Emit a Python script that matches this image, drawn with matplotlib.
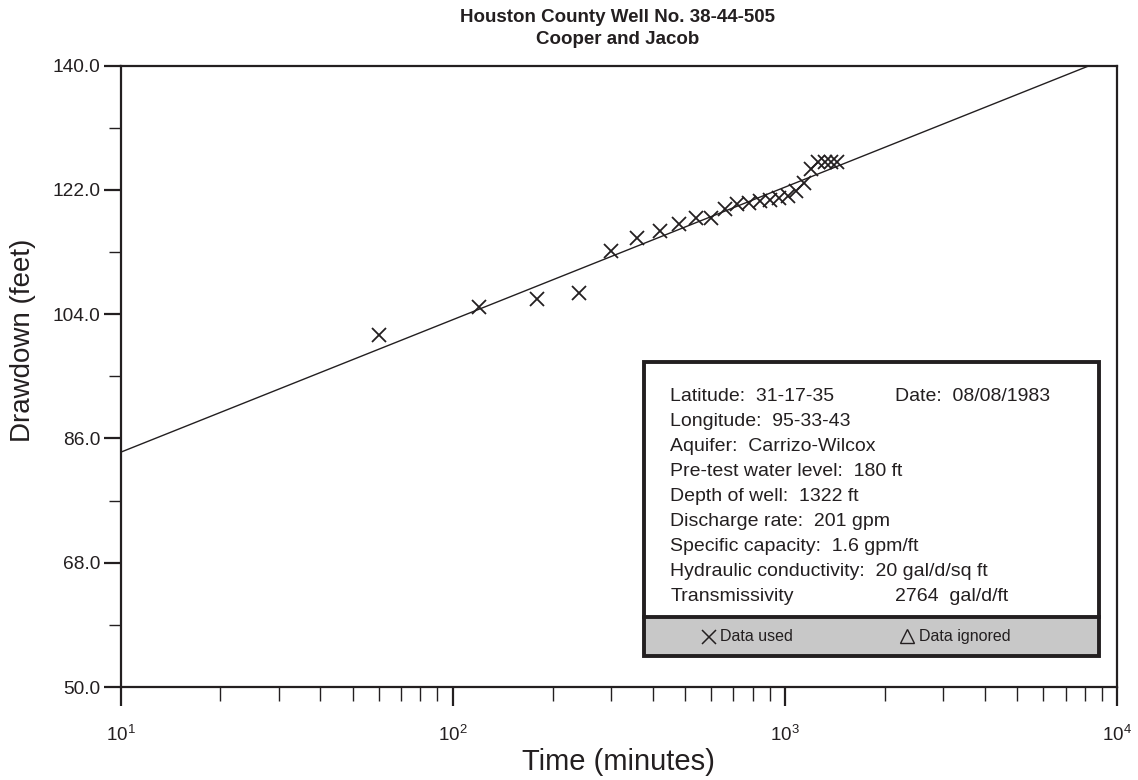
import numpy as np
import matplotlib
matplotlib.use("Agg")
import matplotlib.pyplot as plt
from matplotlib.patches import Rectangle
from matplotlib.lines import Line2D
from matplotlib.ticker import FixedLocator, FormatStrFormatter, LogLocator

plt.rcParams["font.family"] = ["Liberation Sans", "DejaVu Sans"]

# ---------------------------------------------------------------------------
# Data
# ---------------------------------------------------------------------------
time_min = [60, 120, 180, 240, 300, 360, 420, 480, 540, 600, 660, 720,
            780, 840, 900, 960, 1020, 1080, 1140, 1200, 1260, 1320, 1380, 1440]
drawdown_ft = [101.0, 105.0, 106.2, 107.1, 113.1, 115.1, 116.1, 117.0, 118.0,
               118.0, 119.2, 119.9, 120.1, 120.4, 120.6, 120.8, 121.1, 121.8,
               123.0, 125.0, 126.0, 126.0, 126.0, 126.0]

# Cooper-Jacob straight line: drawdown at t=10 min and slope per log cycle
fit_s_at_10 = 84.0
fit_slope = 19.2
fit_t = [10, 10000]

y_major = [50.0, 68.0, 86.0, 104.0, 122.0, 140.0]
y_minor = [59.0, 77.0, 95.0, 113.0, 131.0]

title_lines = ["Houston County Well No. 38-44-505", "Cooper and Jacob"]
info_rows = [
    ("Latitude:  31-17-35", "Date:  08/08/1983"),
    ("Longitude:  95-33-43", ""),
    ("Aquifer:  Carrizo-Wilcox", ""),
    ("Pre-test water level:  180 ft", ""),
    ("Depth of well:  1322 ft", ""),
    ("Discharge rate:  201 gpm", ""),
    ("Specific capacity:  1.6 gpm/ft", ""),
    ("Hydraulic conductivity:  20 gal/d/sq ft", ""),
    ("Transmissivity", "2764  gal/d/ft"),
]

# ---------------------------------------------------------------------------
# Figure
# ---------------------------------------------------------------------------
W, H = 1138, 780
fig = plt.figure(figsize=(W / 100, H / 100), dpi=100)


def fx(px):
    return px / W


def fy(py):
    return 1 - py / H


ax = fig.add_axes([fx(120.5), fy(687), fx(1117) - fx(120.5), fy(65.7) - fy(687)])
ax.set_xscale("log")
ax.set_xlim(10, 10000)
ax.set_ylim(50, 140)

ink = "#231f20"

ft = np.array(fit_t, dtype=float)
ax.plot(ft, fit_s_at_10 + fit_slope * (np.log10(ft) - 1), color=ink, lw=1.0)
ax.plot(time_min, drawdown_ft, ls="none", marker="x", ms=9.5, mew=1.3, color=ink)

for s in ax.spines.values():
    s.set_linewidth(1.6)
    s.set_color(ink)

ax.yaxis.set_major_locator(FixedLocator(y_major))
ax.yaxis.set_minor_locator(FixedLocator(y_minor))
ax.yaxis.set_major_formatter(FormatStrFormatter("%.1f"))
ax.xaxis.set_major_locator(LogLocator(base=10))
ax.xaxis.set_minor_locator(LogLocator(base=10, subs=np.arange(2, 10)))
ax.xaxis.set_minor_formatter(plt.NullFormatter())

ax.tick_params(axis="y", which="major", direction="out", length=12.5, width=1.6,
               color=ink, labelsize=13.8, labelcolor=ink, pad=2)
ax.tick_params(axis="y", which="minor", direction="out", length=8.5, width=1.0, color=ink)
ax.tick_params(axis="x", which="major", direction="out", length=13.5, width=1.6,
               color=ink, labelsize=13.5, labelcolor=ink, pad=14)
ax.tick_params(axis="x", which="minor", direction="out", length=10, width=1.0, color=ink)

# axis labels placed where they sit in the reference
fig.text(fx(618.5), fy(762), "Time (minutes)", ha="center", va="center",
         fontsize=21, color=ink)
fig.text(fx(23.5), fy(340), "Drawdown (feet)", ha="center", va="center",
         rotation=90, fontsize=20, color=ink)

fig.text(fx(618), fy(17), title_lines[0], ha="center", va="center",
         fontsize=13.5, fontweight="bold", color=ink)
fig.text(fx(618), fy(40), title_lines[1], ha="center", va="center",
         fontsize=13.5, fontweight="bold", color=ink)

# ---------------------------------------------------------------------------
# Info box
# ---------------------------------------------------------------------------
bx0, bx1, by_top, by_sep, by_bot = 644, 1099, 362, 617, 656
fig.add_artist(Rectangle((fx(bx0), fy(by_bot)), fx(bx1) - fx(bx0), fy(by_sep) - fy(by_bot),
                         transform=fig.transFigure, facecolor="#c8c8c8", edgecolor="none"))
fig.add_artist(Rectangle((fx(bx0), fy(by_bot)), fx(bx1) - fx(bx0), fy(by_top) - fy(by_bot),
                         transform=fig.transFigure, facecolor="none", edgecolor=ink, lw=2.8))
fig.add_artist(Line2D([fx(bx0), fx(bx1)], [fy(by_sep), fy(by_sep)],
                      transform=fig.transFigure, color=ink, lw=2.8))

for i, (left, right) in enumerate(info_rows):
    base = 400.7 + 25 * i
    fig.text(fx(670.5), fy(base), left, ha="left", va="baseline", fontsize=14, color=ink)
    if right:
        fig.text(fx(895), fy(base), right, ha="left", va="baseline", fontsize=14, color=ink)

fig.add_artist(Line2D([fx(708.5)], [fy(636.5)], transform=fig.transFigure, marker="x",
                      ms=9.5, mew=1.1, color=ink, ls="none"))
fig.text(fx(720), fy(636.5), "Data used", ha="left", va="center", fontsize=11.5, color=ink)
fig.add_artist(Line2D([fx(907)], [fy(635.5)], transform=fig.transFigure, marker="^",
                      ms=10, mew=1.0, mfc="none", color=ink, ls="none"))
fig.text(fx(919), fy(636.5), "Data ignored", ha="left", va="center", fontsize=11.5, color=ink)

fig.savefig("out.png", dpi=100)
